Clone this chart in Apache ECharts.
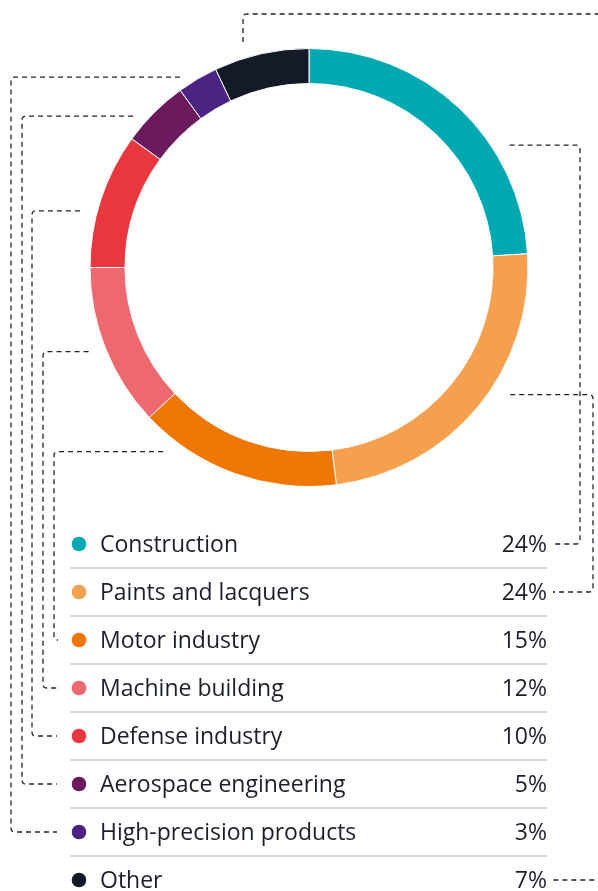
<!DOCTYPE html>
<html>
<head>
<meta charset="utf-8">
<script src="https://cdn.jsdelivr.net/npm/echarts@6/dist/echarts.min.js"></script>
<style>
  html, body { margin: 0; padding: 0; background: #ffffff; }
  #chart { width: 598px; height: 891px; }
</style>
</head>
<body>
<div id="chart"></div>
<script>
// Sector shares, clockwise from twelve o'clock
const categories = [
  'Construction',
  'Paints and lacquers',
  'Motor industry',
  'Machine building',
  'Defense industry',
  'Aerospace engineering',
  'High-precision products',
  'Other'
];
const shares = [24, 24, 15, 12, 10, 5, 3, 7];
const colors = ['#00a9b1', '#f5a04f', '#ee7602', '#ee6870', '#e8373f', '#6b1a5e', '#4b2483', '#141a28'];

// Ring geometry
const CX = 309, CY = 267.5, R_IN = 184, R_OUT = 219;
// Key table
const ROW_TOP = 520, ROW_H = 48, TABLE_L = 70, TABLE_R = 547;
const DOT_X = 79, NAME_X = 100;
const FONT = 'Open Sans';
const FONT_SIZE = 23;
const INK = '#1b1f2c';

// Leader lines: where each one leaves the ring (polar, degrees / px from centre),
// which vertical lane it runs down, and which side of the table it joins.
const leaderStart = [[31.4, 235], [-32.3, 238], [-128.4, 235], [-159.1, 236],
                     [166.1, 236], [139.3, 232], [124.1, 230], [106.3, 235]];
const leaderLane  = [580, 593, 54, 43, 32, 22, 11, 604];

const chart = echarts.init(document.getElementById('chart'), null, { renderer: 'canvas' });

function rowCenter(i) { return ROW_TOP + ROW_H * i + ROW_H / 2; }

// Polyline through the given points with small rounded corners
function roundedPoints(pts, r) {
  const out = [pts[0]];
  for (let i = 1; i < pts.length - 1; i++) {
    const p0 = pts[i - 1], p1 = pts[i], p2 = pts[i + 1];
    const l1 = Math.hypot(p1[0] - p0[0], p1[1] - p0[1]);
    const l2 = Math.hypot(p2[0] - p1[0], p2[1] - p1[1]);
    const a = [p1[0] - (p1[0] - p0[0]) / l1 * r, p1[1] - (p1[1] - p0[1]) / l1 * r];
    const b = [p1[0] + (p2[0] - p1[0]) / l2 * r, p1[1] + (p2[1] - p1[1]) / l2 * r];
    for (let k = 0; k <= 6; k++) {
      const t = k / 6, u = 1 - t;
      out.push([u * u * a[0] + 2 * u * t * p1[0] + t * t * b[0],
                u * u * a[1] + 2 * u * t * p1[1] + t * t * b[1]]);
    }
  }
  out.push(pts[pts.length - 1]);
  return out;
}

const graphics = [];

// Row separators
for (let i = 1; i < categories.length; i++) {
  const y = ROW_TOP + ROW_H * i;
  graphics.push({
    type: 'line', silent: true,
    shape: { x1: TABLE_L, y1: y, x2: TABLE_R, y2: y },
    style: { stroke: '#c8ccd0', lineWidth: 1.4 }
  });
}

// Key rows: colour dot, sector name, share
const textFont = '500 ' + FONT_SIZE + 'px "' + FONT + '"';
categories.forEach((name, i) => {
  const y = rowCenter(i);
  graphics.push({
    type: 'circle', silent: true,
    shape: { cx: DOT_X, cy: y, r: 7.3 },
    style: { fill: colors[i] }
  });
  graphics.push({
    type: 'text', silent: true, x: NAME_X, y: y + 1,
    style: { text: name, font: textFont, fill: INK, verticalAlign: 'middle', align: 'left' }
  });
  graphics.push({
    type: 'text', silent: true, x: TABLE_R, y: y + 1,
    style: { text: shares[i] + '%', font: textFont, fill: INK, verticalAlign: 'middle', align: 'right' }
  });
});

// Dashed leaders from ring to table rows
categories.forEach((name, i) => {
  const a = leaderStart[i][0] * Math.PI / 180, r = leaderStart[i][1];
  const sx = CX + r * Math.cos(a), sy = CY - r * Math.sin(a);
  const ry = rowCenter(i);
  const lane = leaderLane[i];
  let pts;
  if (name === 'Other') {
    pts = [[sx, sy], [sx, 14], [lane, 14], [lane, ry], [553, ry]];
  } else if (lane > CX) {
    pts = [[sx, sy], [lane, sy], [lane, ry], [553, ry]];
  } else {
    pts = [[sx, sy], [lane, sy], [lane, ry], [57, ry]];
  }
  graphics.push({
    type: 'polyline', silent: true,
    shape: { points: roundedPoints(pts, 4) },
    style: { fill: null, stroke: '#1e2230', lineWidth: 1.3, lineDash: [5, 4] }
  });
});

const option = {
  backgroundColor: '#ffffff',
  animation: false,
  color: colors,
  series: [{
    type: 'pie',
    center: [CX, CY],
    radius: [R_IN, R_OUT],
    startAngle: 90,
    clockwise: true,
    silent: true,
    label: { show: false },
    labelLine: { show: false },
    itemStyle: { borderColor: '#ffffff', borderWidth: 1 },
    data: categories.map((c, i) => ({ name: c, value: shares[i] }))
  }],
  graphic: graphics
};

chart.setOption(option);
</script>
</body>
</html>
